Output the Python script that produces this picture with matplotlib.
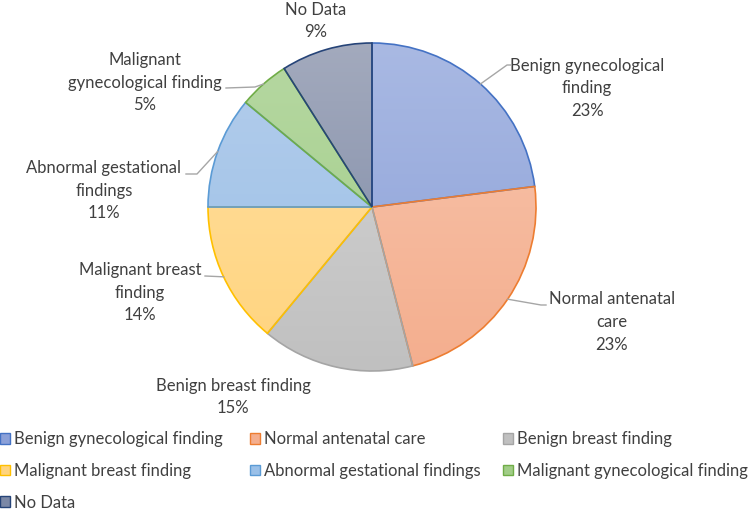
import numpy as np
import matplotlib
matplotlib.use('Agg')
from matplotlib import pyplot as plt
from matplotlib.patches import Patch
from matplotlib.colors import LinearSegmentedColormap

# data
categories = ['Benign gynecological finding', 'Normal antenatal care',
              'Benign breast finding', 'Malignant breast finding',
              'Abnormal gestational findings', 'Malignant gynecological finding',
              'No Data']
shares = [23, 23, 15, 14, 11, 5, 9]
label_text = ['Benign gynecological\nfinding', 'Normal antenatal\ncare',
              'Benign breast finding', 'Malignant breast\nfinding',
              'Abnormal gestational\nfindings', 'Malignant\ngynecological finding',
              'No Data']

# colours: (top of gradient, bottom of gradient, edge)
tops = ['#a9b9e3', '#f8c6ae', '#d6d6d6', '#ffe0a3', '#b4cdeb', '#b6d8a2', '#a3aabd']
bottoms = ['#8ba0d8', '#f4ae8e', '#c0c0c0', '#ffd47e', '#9ac0e8', '#a1cd87', '#7b88a6']
edges = ['#4472c4', '#ed7d31', '#a5a5a5', '#ffc000', '#5b9bd5', '#70ad47', '#264478']

plt.rcParams['font.family'] = ['Lato', 'DejaVu Sans']
txt_col = '#404040'
fs = 12

fig = plt.figure(figsize=(7.49, 5.12), dpi=100)
ax = fig.add_axes([0, 0, 1, 1])

cx, cy, r = 372, 512 - 207, 164
wedges, _ = ax.pie(shares, startangle=90, counterclock=False,
                   center=(cx, cy), radius=r,
                   wedgeprops=dict(facecolor='none', linewidth=1.2))
ax.set_xlim(0, 749)
ax.set_ylim(0, 512)
ax.set_aspect('auto')
ax.axis('off')

grad = np.linspace(0, 1, 256).reshape(-1, 1)
for w, t, b, e in zip(wedges, tops, bottoms, edges):
    w.set_edgecolor(e)
    w.set_zorder(3)
    cmap = LinearSegmentedColormap.from_list('g', [t, b])
    im = ax.imshow(grad, cmap=cmap, aspect='auto', origin='upper',
                   extent=(cx - r, cx + r, cy - r, cy + r), zorder=2)
    im.set_clip_path(w)

# label positions (text centre, pixel coords from top) and leader elbows
lab_pos = [(587, 88), (612, 322), (233, 397), (140, 293),
           (104, 191), (145, 83), (316, 21)]
leaders = {0: [(507, 65), (511, 65)],
           1: [(541, 305), (546, 305)],
           3: [(205, 276)],
           4: [(197, 174), (186, 174)],
           5: [(255, 87), (226, 88)]}

for i, (w, name, val) in enumerate(zip(wedges, label_text, shares)):
    x, y = lab_pos[i]
    ax.text(x, 512 - y, f'{name}\n{val}%', ha='center', va='center',
            fontsize=fs, color=txt_col, linespacing=1.5)
    if i in leaders:
        mid = np.deg2rad((w.theta1 + w.theta2) / 2)
        px = [cx + r * np.cos(mid)] + [p[0] for p in leaders[i]]
        py = [cy + r * np.sin(mid)] + [512 - p[1] for p in leaders[i]]
        ax.plot(px, py, color='#a6a6a6', lw=1, zorder=4)

# legend: three equal-width columns, filled row by row
columns = [[0, 3, 6], [1, 4], [2, 5]]
col_x = [0, 250, 503]
for idx, x0 in zip(columns, col_x):
    handles = [Patch(facecolor=bottoms[i], edgecolor=edges[i], label=categories[i])
               for i in idx]
    leg = fig.legend(handles=handles, loc='upper left',
                     bbox_to_anchor=(x0 / 749, 1 - 431 / 512), frameon=False,
                     fontsize=fs, labelcolor=txt_col, handlelength=0.62,
                     handleheight=0.62, handletextpad=0.2,
                     labelspacing=0.95, borderaxespad=0, borderpad=0)

fig.savefig('out.png', dpi=100)
